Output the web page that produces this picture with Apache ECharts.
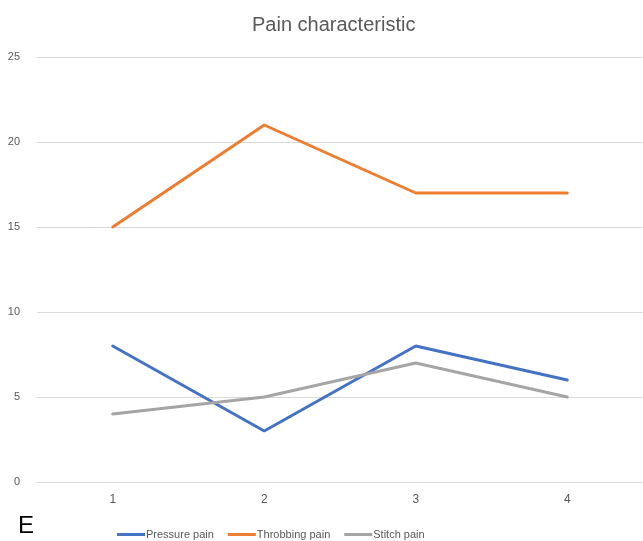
<!DOCTYPE html>
<html>
<head>
<meta charset="utf-8">
<script src="https://cdn.jsdelivr.net/npm/echarts@6/dist/echarts.min.js"></script>
<style>
  html, body { margin: 0; padding: 0; background: #fff; }
  #chart { width: 643px; height: 541px; }
</style>
</head>
<body>
<div id="chart"></div>
<script>
// Visit categories and pain-characteristic counts
const categories = ['1', '2', '3', '4'];
const pressurePain = [8, 3, 8, 6];
const throbbingPain = [15, 21, 17, 17];
const stitchPain = [4, 5, 7, 5];
const yTicks = { min: 0, max: 25, interval: 5 };

const FONT = '"Liberation Sans", "DejaVu Sans", sans-serif';
const TEXT = '#595959';

const chart = echarts.init(document.getElementById('chart'));

function lineSeries(name, data, color) {
  return {
    name: name,
    type: 'line',
    data: data,
    symbol: 'none',
    lineStyle: { color: color, width: 3, cap: 'round' },
    itemStyle: { color: color }
  };
}

chart.setOption({
  animation: false,
  backgroundColor: '#ffffff',
  title: {
    text: 'Pain characteristic',
    left: 247,
    top: 10,
    textStyle: { fontFamily: FONT, fontSize: 20, fontWeight: 'normal', color: TEXT }
  },
  grid: { left: 37, top: 57, width: 608, height: 425, containLabel: false },
  xAxis: {
    type: 'category',
    data: categories,
    boundaryGap: true,
    axisLine: { show: false },
    axisTick: { show: false },
    axisLabel: { margin: 12, fontFamily: FONT, fontSize: 12, color: TEXT }
  },
  yAxis: {
    type: 'value',
    min: yTicks.min,
    max: yTicks.max,
    interval: yTicks.interval,
    axisLine: { show: false },
    axisTick: { show: false },
    axisLabel: { margin: 17, fontFamily: FONT, fontSize: 11, color: TEXT },
    splitLine: { lineStyle: { color: '#d9d9d9', width: 1 } }
  },
  legend: {
    left: 112,
    top: 524,
    icon: 'rect',
    itemWidth: 28,
    itemHeight: 3,
    itemGap: 14,
    textStyle: { fontFamily: FONT, fontSize: 11, color: TEXT, padding: [0, 0, 0, -4] },
    data: ['Pressure pain', 'Throbbing pain', 'Stitch pain']
  },
  graphic: [{
    type: 'text',
    left: 18,
    top: 514,
    style: { text: 'E', fontFamily: FONT, fontSize: 24, fill: '#000000' }
  }],
  series: [
    lineSeries('Pressure pain', pressurePain, '#4472C4'),
    lineSeries('Throbbing pain', throbbingPain, '#ED7D31'),
    lineSeries('Stitch pain', stitchPain, '#A5A5A5')
  ]
});
</script>
</body>
</html>
